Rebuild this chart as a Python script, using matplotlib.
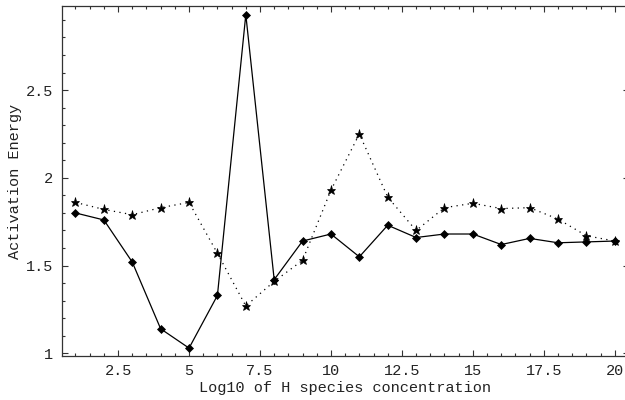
import matplotlib
matplotlib.use("Agg")
import matplotlib.pyplot as plt
from matplotlib.ticker import MultipleLocator, FuncFormatter
import numpy as np

# log10 of H species concentration
log_h = [1, 2, 3, 4, 5, 6, 7, 8, 9, 10, 11, 12, 13, 14, 15, 16, 17, 18, 19, 20]

# solid line, diamond markers
energy_solid = [1.80, 1.76, 1.52, 1.14, 1.03, 1.33, 2.93, 1.42, 1.64, 1.68,
                1.55, 1.73, 1.66, 1.68, 1.68, 1.62, 1.655, 1.63, 1.635, 1.64]

# dotted line, star markers
energy_dotted = [1.86, 1.82, 1.79, 1.83, 1.86, 1.57, 1.27, 1.41, 1.53, 1.93,
                 2.25, 1.89, 1.70, 1.83, 1.855, 1.825, 1.83, 1.765, 1.67, 1.64]

plt.rcParams['font.family'] = ['Liberation Mono', 'DejaVu Sans Mono']

fig = plt.figure(figsize=(6.25, 4), dpi=100)
# right frame edge sits just outside the picture, as in the original
ax = fig.add_axes([61.7/625, 44/400, (629-61.7)/625, 350/400])

ax.plot(log_h, energy_dotted, color='black', lw=0.9, linestyle=(0, (1, 3.5)),
        marker='*', markersize=6.5, markeredgewidth=0.5)
ax.plot(log_h, energy_solid, color='black', lw=0.9,
        marker='D', markersize=4, markeredgewidth=0.5)

ax.set_xlim(0.514, 20.5)
ax.set_ylim(0.985, 2.979)

ax.xaxis.set_major_locator(MultipleLocator(2.5))
ax.xaxis.set_minor_locator(MultipleLocator(0.5))
ax.yaxis.set_major_locator(MultipleLocator(0.5))
ax.yaxis.set_minor_locator(MultipleLocator(0.1))
fmt = FuncFormatter(lambda v, p: '%g' % v)
ax.xaxis.set_major_formatter(fmt)
ax.yaxis.set_major_formatter(fmt)

ax.tick_params(which='both', direction='in', top=True, right=True,
               color='#333333', labelsize=11, labelcolor='#222222', width=0.8)
ax.tick_params(which='major', length=4, pad=6)
ax.tick_params(which='minor', length=2)

for s in ax.spines.values():
    s.set_color('#333333')
    s.set_linewidth(0.9)

ax.set_xlabel('Log10 of H species concentration', fontsize=11, color='#222222', labelpad=2)
ax.set_ylabel('Activation Energy', fontsize=11, color='#222222', labelpad=3)

fig.savefig('out.png', dpi=100)
